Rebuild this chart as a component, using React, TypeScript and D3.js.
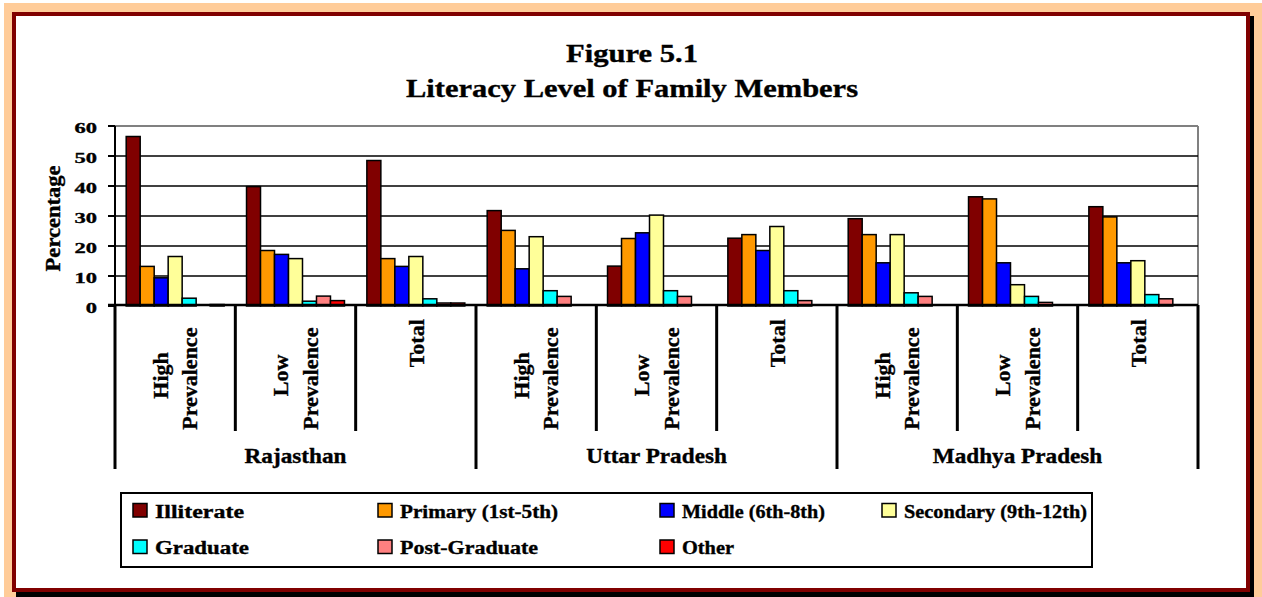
import React from "react";
import * as d3 from "d3";

// ---- Data ----
const states = ["Rajasthan", "Uttar Pradesh", "Madhya Pradesh"];
const subCategories = ["High Prevalence", "Low Prevalence", "Total"];
const subCategoryLines = [["High", "Prevalence"], ["Low", "Prevalence"], ["Total"]];
const seriesNames = [
  "Illiterate",
  "Primary (1st-5th)",
  "Middle (6th-8th)",
  "Secondary (9th-12th)",
  "Graduate",
  "Post-Graduate",
  "Other",
];
// order: RJ-High, RJ-Low, RJ-Total, UP-High, UP-Low, UP-Total, MP-High, MP-Low, MP-Total
const illiterate = [56.5, 39.8, 48.5, 31.8, 13.3, 22.6, 29.1, 36.4, 33.1];
const primary = [13.2, 18.5, 15.8, 25.2, 22.5, 23.8, 23.8, 35.7, 29.7];
const middle = [9.4, 17.2, 13.2, 12.4, 24.4, 18.5, 14.4, 14.4, 14.4];
const secondary = [16.5, 15.8, 16.5, 23.1, 30.3, 26.5, 23.8, 7.1, 15.1];
const graduate = [2.6, 1.6, 2.4, 5.1, 5.1, 5.1, 4.4, 3.2, 3.8];
const postGraduate = [0, 3.3, 1.0, 3.2, 3.2, 1.8, 3.2, 1.2, 2.4];
const other = [0.5, 1.8, 1.0, 0, 0, 0, 0, 0, 0];
const yTicks = [0, 10, 20, 30, 40, 50, 60];

const seriesValues = [illiterate, primary, middle, secondary, graduate, postGraduate, other];
const seriesColors = ["#800000", "#FF9900", "#0000FF", "#FFFF99", "#00FFFF", "#FF8080", "#FF0000"];

// ---- Layout ----
const W = 1262;
const H = 597;
const PL = 115, PR = 1198, PT = 126, PB = 306;
const FONT = "'Liberation Serif', 'Times New Roman', serif";
const legendTextWidths = [89, 158, 143, 183, 94, 138, 52];
const legendCols = [133, 378, 660, 882];
const legendRows = [510.5, 547];

export default function App() {
  const groups = d3.range(states.length * subCategories.length);
  const x0 = d3.scaleBand<number>().domain(groups).range([PL, PR]).paddingInner(0).paddingOuter(0);
  const x1 = d3
    .scaleBand<string>()
    .domain(seriesNames)
    .range([0, x0.bandwidth()])
    .paddingInner(0)
    .paddingOuter(0.8);
  const y = d3.scaleLinear().domain([0, 60]).range([PB, PT]);

  const bw = x0.bandwidth();

  return (
    <svg
      width={W}
      height={H}
      style={{ position: "absolute", left: 0, top: 0, display: "block" }}
      fontFamily={FONT}
      fontWeight="bold"
    >
      <style>{`text{stroke:#000;stroke-width:0.35px;fill:#000}`}</style>
      {/* background and frame */}
      <rect x={0} y={0} width={W} height={H} fill="#fff" />
      <rect x={4} y={3} width={W - 4} height={H - 3} fill="#FFCC99" />
      <rect x={16} y={16} width={1238} height={581} fill="#000" />
      <rect x={14} y={14} width={1234} height={576} fill="#fff" stroke="#800000" strokeWidth={4} />

      {/* title */}
      <text x={632} y={62} textAnchor="middle" fontSize={26} textLength={132} lengthAdjust="spacingAndGlyphs">
        Figure 5.1
      </text>
      <text x={632} y={97} textAnchor="middle" fontSize={26} textLength={452} lengthAdjust="spacingAndGlyphs">
        Literacy Level of Family Members
      </text>

      {/* plot border (gray) */}
      <line x1={PL} x2={PR} y1={PT} y2={PT} stroke="#808080" strokeWidth={2} />
      <line x1={PR} x2={PR} y1={PT} y2={PB} stroke="#808080" strokeWidth={2} />

      {/* gridlines */}
      {yTicks
        .filter((t) => t > 0 && t < 60)
        .map((t) => (
          <line key={"g" + t} x1={PL} x2={PR} y1={y(t)} y2={y(t)} stroke="#000" strokeWidth={1.6} />
        ))}

      {/* bars */}
      {groups.map((g) =>
        seriesNames.map((s, si) => {
          const v = seriesValues[si][g];
          if (!(v > 0)) return null;
          return (
            <rect
              key={g + "-" + si}
              x={(x0(g) as number) + (x1(s) as number)}
              y={y(v)}
              width={x1.bandwidth()}
              height={y(0) - y(v)}
              fill={seriesColors[si]}
              stroke="#000"
              strokeWidth={1.5}
            />
          );
        })
      )}

      {/* y axis */}
      <line x1={PL} x2={PL} y1={PT} y2={PB} stroke="#000" strokeWidth={2} />
      {yTicks.map((t) => (
        <g key={"t" + t}>
          <line x1={108} x2={PL} y1={y(t)} y2={y(t)} stroke="#000" strokeWidth={2} />
          <text
            transform={`translate(97,${y(t) + 6.5}) scale(1.5,1)`}
            textAnchor="end"
            fontSize={15}
          >
            {t}
          </text>
        </g>
      ))}
      <text
        transform={`translate(59.6,218.4) rotate(-90)`}
        textAnchor="middle"
        fontSize={20.5}
        textLength={106}
        lengthAdjust="spacingAndGlyphs"
      >
        Percentage
      </text>

      {/* x axis baseline */}
      <line x1={108} x2={PR} y1={305} y2={305} stroke="#000" strokeWidth={2.5} />

      {/* category separators */}
      {d3.range(groups.length + 1).map((i) => {
        const xx = PL + i * bw;
        const isGroup = i % subCategories.length === 0;
        return (
          <line
            key={"sep" + i}
            x1={xx}
            x2={xx}
            y1={305}
            y2={isGroup ? 469 : 431}
            stroke="#000"
            strokeWidth={3}
          />
        );
      })}

      {/* sub category labels */}
      {groups.map((g) => {
        const lines = subCategoryLines[g % subCategories.length];
        const cx = (x0(g) as number) + bw / 2;
        if (lines.length === 1) {
          return (
            <text
              key={"c" + g}
              transform={`translate(${cx + 8},343.3) rotate(-90)`}
              textAnchor="middle"
              fontSize={22}
            >
              {lines[0]}
            </text>
          );
        }
        const b1 = cx - 7.5;
        return (
          <g key={"c" + g}>
            <text transform={`translate(${b1},375.5) rotate(-90)`} textAnchor="middle" fontSize={22}>
              {lines[0]}
            </text>
            <text transform={`translate(${b1 + 29.7},378.7) rotate(-90)`} textAnchor="middle" fontSize={22}>
              {lines[1]}
            </text>
          </g>
        );
      })}

      {/* state labels */}
      {states.map((s, i) => {
        const cx = PL + (i * 3 + 1.5) * bw;
        return (
          <text
            key={"s" + i}
            transform={`translate(${cx},463) scale(1.055,1)`}
            textAnchor="middle"
            fontSize={22}
          >
            {s}
          </text>
        );
      })}

      {/* legend */}
      <rect x={121} y={493} width={971} height={74} fill="#fff" stroke="#000" strokeWidth={2} />
      {seriesNames.map((s, i) => {
        const col = i < 4 ? i : i - 4;
        const row = i < 4 ? 0 : 1;
        const sx = legendCols[col];
        const cy = legendRows[row];
        return (
          <g key={"l" + i}>
            <rect
              x={sx}
              y={cy - 7}
              width={14}
              height={13.5}
              fill={seriesColors[i]}
              stroke="#000"
              strokeWidth={1.5}
            />
            <text
              x={sx + 22}
              y={cy + 7}
              fontSize={18.5}
              textLength={legendTextWidths[i]}
              lengthAdjust="spacingAndGlyphs"
            >
              {s}
            </text>
          </g>
        );
      })}
    </svg>
  );
}
